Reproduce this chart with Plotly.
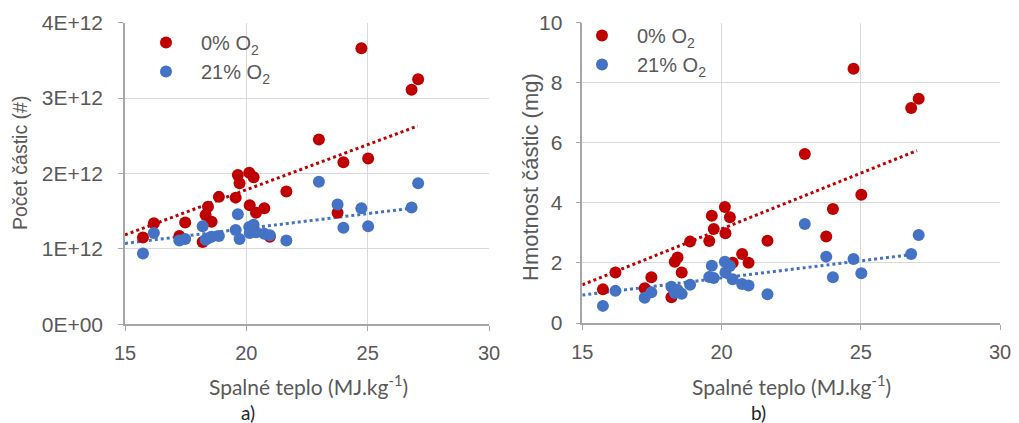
import plotly.graph_objects as go

# Shared x values (Spalné teplo, MJ/kg) for all samples
heat = [15.74, 16.19, 17.24, 17.48, 18.20, 18.32, 18.42, 18.57, 18.87, 19.56,
        19.65, 19.72, 20.12, 20.14, 20.30, 20.40, 20.74, 20.97, 21.65, 22.99,
        23.76, 24.00, 24.74, 25.02, 26.81, 27.08]

# a) Počet částic (x1E12)
count_0 = [1.15, 1.34, 1.17, 1.35, 1.09, 1.45, 1.56, 1.36, 1.69, 1.68,
           1.98, 1.87, 2.01, 1.58, 1.95, 1.48, 1.54, 1.16, 1.76, 2.45,
           1.48, 2.15, 3.66, 2.20, 3.11, 3.25]
count_21 = [0.94, 1.21, 1.11, 1.13, 1.30, 1.12, 1.14, 1.16, 1.17, 1.25,
            1.46, 1.13, 1.29, 1.21, 1.32, 1.22, 1.20, 1.18, 1.11, 1.89,
            1.59, 1.28, 1.54, 1.30, 1.55, 1.87]

# b) Hmotnost částic (mg)
mass_0 = [1.12, 1.68, 1.16, 1.52, 0.86, 2.04, 2.18, 1.68, 2.71, 2.73,
          3.57, 3.13, 3.86, 2.99, 3.52, 2.01, 2.30, 2.01, 2.74, 5.63,
          2.88, 3.80, 8.47, 4.27, 7.16, 7.47]
mass_21 = [0.57, 1.07, 0.84, 1.02, 1.21, 1.00, 1.10, 0.97, 1.27, 1.53,
           1.91, 1.50, 2.04, 1.68, 1.90, 1.46, 1.30, 1.25, 0.96, 3.30,
           2.21, 1.52, 2.13, 1.66, 2.30, 2.93]

# Linear trendlines: [value at x=15, slope, x_end]
trend_count_0 = [1.186, 0.1197, 27.06]   # x1E12
trend_count_21 = [1.073, 0.0395, 26.80]  # x1E12
trend_mass_0 = [1.27, 0.372, 27.02]
trend_mass_21 = [0.93, 0.114, 26.78]

left_ticks = [0, 1, 2, 3, 4]  # x1E12
left_ticktext = ["0E+00", "1E+12", "2E+12", "3E+12", "4E+12"]
right_ticks = [0, 2, 4, 6, 8, 10]
x_ticks = [15, 20, 25, 30]

RED = "#c00000"
BLUE = "#4472c4"
GRID = "#d9d9d9"
AXIS = "#a6a6a6"
TXT = "#595959"
ARIAL = "Liberation Sans, Arial, sans-serif"
CALIBRI = "Lato, Carlito, sans-serif"

E12 = 1e12
count_0_abs = [v * E12 for v in count_0]
count_21_abs = [v * E12 for v in count_21]

fig = go.Figure()


def trend(params, scale, color, xa, ya):
    q, k, xe = params
    xx = [15.0, xe]
    yy = [(q + k * (x - 15.0)) * scale for x in xx]
    fig.add_trace(go.Scatter(x=xx, y=yy, mode="lines",
                             line=dict(color=color, width=3, dash="dot"),
                             xaxis=xa, yaxis=ya, showlegend=False, hoverinfo="skip"))


trend(trend_count_0, E12, RED, "x", "y")
trend(trend_count_21, E12, BLUE, "x", "y")
trend(trend_mass_0, 1, RED, "x2", "y2")
trend(trend_mass_21, 1, BLUE, "x2", "y2")

mk = dict(size=12)
fig.add_trace(go.Scatter(x=heat, y=count_0_abs, mode="markers", name="0% O<sub>2</sub>",
                         marker=dict(color=RED, **mk), xaxis="x", yaxis="y", legend="legend"))
fig.add_trace(go.Scatter(x=heat, y=count_21_abs, mode="markers", name="21% O<sub>2</sub>",
                         marker=dict(color=BLUE, **mk), xaxis="x", yaxis="y", legend="legend"))
fig.add_trace(go.Scatter(x=heat, y=mass_0, mode="markers", name="0% O<sub>2</sub>",
                         marker=dict(color=RED, **mk), xaxis="x2", yaxis="y2", legend="legend2"))
fig.add_trace(go.Scatter(x=heat, y=mass_21, mode="markers", name="21% O<sub>2</sub>",
                         marker=dict(color=BLUE, **mk), xaxis="x2", yaxis="y2", legend="legend2"))

# page body has an 8px margin; figure fills the rest of the 1019x423 window
OFF = 8
W, H = 1019 - OFF, 423 - OFF


def px(x):
    return (x - OFF) / W


def py(y):
    return 1 - (y - OFF) / H


xcommon = dict(range=[15, 30], tickvals=x_ticks, showgrid=True, gridcolor=GRID, gridwidth=1,
               showline=True, linecolor=AXIS, linewidth=2, ticks="outside", ticklen=5,
               tickcolor=AXIS, zeroline=False, automargin=False, ticklabelstandoff=5,
               tickfont=dict(family=ARIAL, size=20, color=TXT))
ycommon = dict(showgrid=True, gridcolor=GRID, gridwidth=1, showline=True, linecolor=AXIS,
               linewidth=1.5, ticks="outside", ticklen=5, tickcolor=AXIS, zeroline=False,
               automargin=False, tickfont=dict(family=ARIAL, size=21, color=TXT))

legfont = dict(family=ARIAL, size=20, color=TXT)

fig.update_layout(
    width=W, height=H,
    margin=dict(l=0, r=0, t=0, b=0),
    paper_bgcolor="white", plot_bgcolor="white",
    xaxis=dict(domain=[px(125), px(489)], anchor="y", **xcommon),
    yaxis=dict(domain=[py(324.3), py(22.7)], anchor="x", range=[0, 4 * E12],
               tickvals=[t * E12 for t in left_ticks], ticktext=left_ticktext,
               ticklabelstandoff=11, **ycommon),
    xaxis2=dict(domain=[px(582.3), px(1000)], anchor="y2", **xcommon),
    yaxis2=dict(domain=[py(323), py(22.7)], anchor="x2", range=[0, 10],
                tickvals=right_ticks, ticklabelstandoff=9, **ycommon),
    legend=dict(x=px(131), y=py(23), xanchor="left", yanchor="top", bgcolor="rgba(0,0,0,0)",
                font=legfont, itemsizing="constant", itemwidth=60, tracegroupgap=0),
    legend2=dict(x=px(567), y=py(16), xanchor="left", yanchor="top", bgcolor="rgba(0,0,0,0)",
                 font=legfont, itemsizing="constant", itemwidth=60, tracegroupgap=0),
    annotations=[
        dict(text="Počet částic (#)", x=px(20), y=py(163), xref="paper", yref="paper",
             xanchor="center", yanchor="middle",
             textangle=-90, showarrow=False, font=dict(family=ARIAL, size=19.5, color=TXT)),
        dict(text="Hmotnost částic (mg)", x=px(530), y=py(177), xref="paper", yref="paper",
             xanchor="center", yanchor="middle",
             textangle=-90, showarrow=False, font=dict(family=ARIAL, size=22, color=TXT)),
        dict(text="Spalné teplo (MJ.kg<sup>-1</sup>)", x=px(308), y=py(385), xref="paper", yref="paper",
             xanchor="center", yanchor="middle",
             showarrow=False, font=dict(family=CALIBRI, size=21, color=TXT)),
        dict(text="Spalné teplo (MJ.kg<sup>-1</sup>)", x=px(791), y=py(385), xref="paper", yref="paper",
             xanchor="center", yanchor="middle",
             showarrow=False, font=dict(family=CALIBRI, size=21, color=TXT)),
        dict(text="a)", x=px(248), y=py(412), xref="paper", yref="paper",
             xanchor="center", yanchor="middle",
             showarrow=False, font=dict(family=CALIBRI, size=19, color="#262626")),
        dict(text="b)", x=px(758), y=py(412), xref="paper", yref="paper",
             xanchor="center", yanchor="middle",
             showarrow=False, font=dict(family=CALIBRI, size=19, color="#262626")),
    ],
)

fig.write_html("out.html")
